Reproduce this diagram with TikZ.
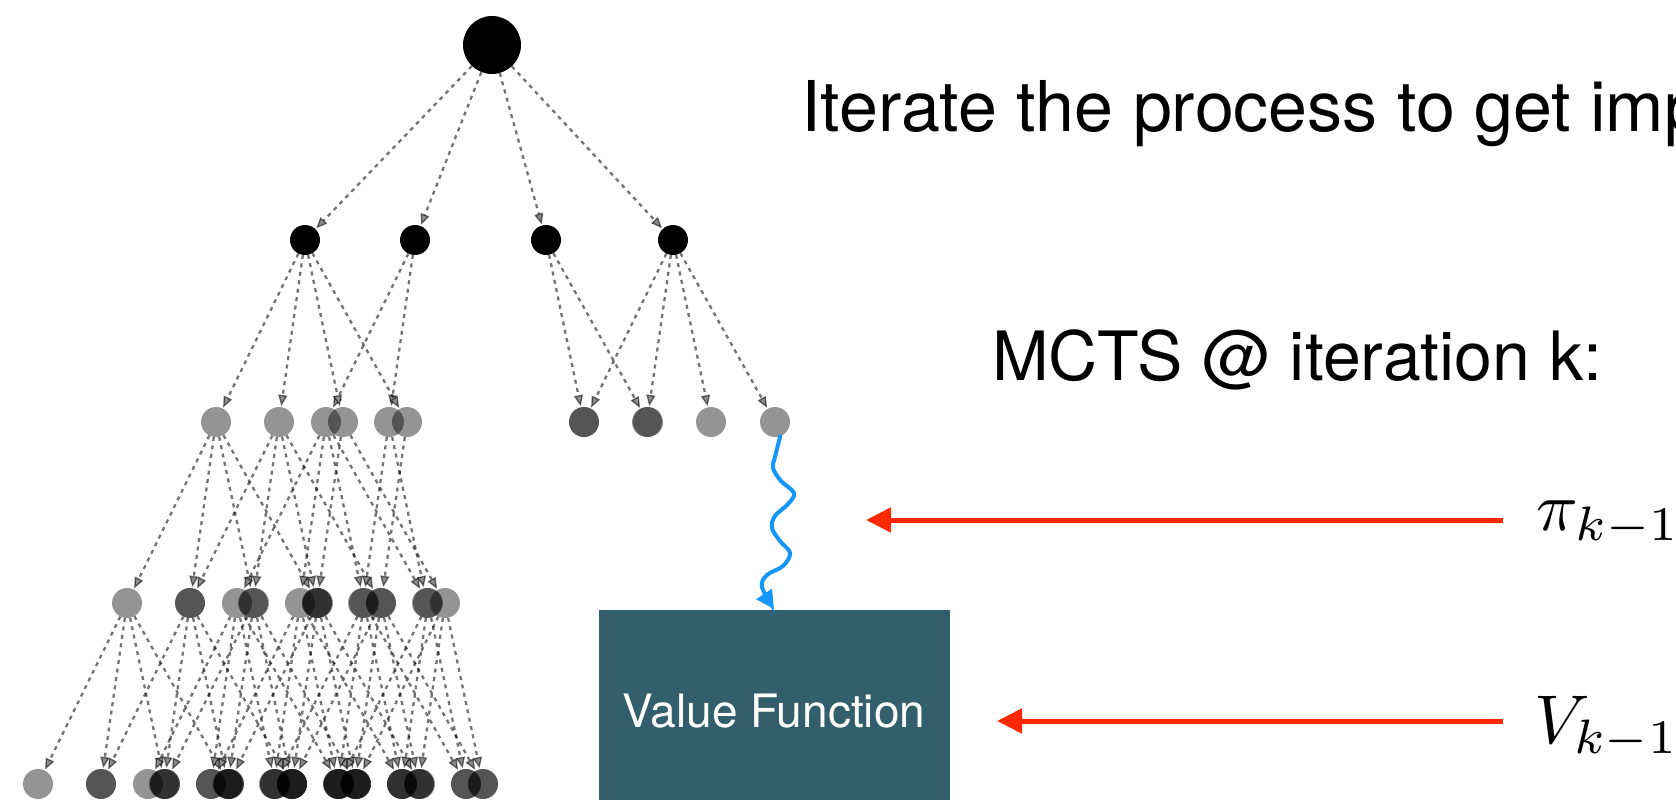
\documentclass[tikz,border=0pt]{standalone}
\usepackage{fontspec}
\setmainfont{TeX Gyre Heros}
\usetikzlibrary{arrows.meta,calc}
\definecolor{vfbox}{RGB}{51,94,107}
\definecolor{arrred}{RGB}{255,40,0}
\definecolor{waveblue}{RGB}{20,150,250}
\begin{document}
\begin{tikzpicture}[x=1pt,y=-1pt,
  edge/.style={draw=black, draw opacity=0.55, line width=2.3pt, dash pattern=on 4pt off 4.5pt,
    -{Triangle[length=11pt, width=9pt, line width=1.3pt, fill=black!45]}, shorten >=1pt},
  solidnode/.style={circle, fill=black, inner sep=0pt, minimum size=30pt},
  gnode/.style={circle, fill=black, fill opacity=0.42, inner sep=0pt, minimum size=30pt},
  bigtext/.style={inner sep=0pt, anchor=base west, font=\fontsize{68}{80}\selectfont},
  redarrow/.style={draw=arrred, line width=5pt, -{Triangle[length=25pt, width=24pt]}},
  wavearrow/.style={draw=waveblue, line width=4pt, line cap=round, -{Triangle[length=18pt, width=18pt]}}
]
\path[use as bounding box] (0,0) rectangle (1676,800);
\fill[white] (0,0) rectangle (1676,800);
\clip (0,0) rectangle (1676,800);

% root and level 1
\node[solidnode, minimum size=58pt] (root) at (492,45) {};
\foreach \n/\x in {a1/305, a2/415, a3/546, a4/673} {
  \node[solidnode] (\n) at (\x,240) {};
  \draw[edge] (root) -- (\n);
}

% level 2
\foreach \n/\p/\o in {b1/a1/-89, b2/a1/-26, b3/a2/-89, b4/a1/38, b5/a2/-26, b6/a1/102,
                      b7/a3/38, b8/a4/-89, b9/a3/102, b10/a4/-26, b11/a4/38, b12/a4/102} {
  \node[gnode] (\n) at ($(\p)+(\o,182)$) {};
  \draw[edge] (\p) -- (\n);
}

% level 3
\foreach \n/\p/\o in {c1/b1/-89, c2/b1/-26, c3/b1/38, c4/b1/102,
                      c5/b2/-89, c6/b2/-26, c7/b2/38, c8/b2/102,
                      c9/b3/-89, c10/b3/-26, c11/b3/38, c12/b3/102,
                      c13/b4/-26, c14/b4/102, c15/b5/38, c16/b5/-26, c17/b6/-26} {
  \node[gnode] (\n) at ($(\p)+(\o,181)$) {};
  \draw[edge] (\p) -- (\n);
}

% level 4
\foreach \p in {c1,c2,c9,c3,c10,c4,c11,c8} {
  \foreach \o [count=\k] in {-89,-26,38,102} {
    \node[gnode] (d-\p-\k) at ($(\p)+(\o,181)$) {};
    \draw[edge] (\p) -- (d-\p-\k);
  }
}
\foreach \p in {c12,c14} {
  \foreach \o [count=\k] in {-89,-26,38} {
    \node[gnode] (d-\p-\k) at ($(\p)+(\o,181)$) {};
    \draw[edge] (\p) -- (d-\p-\k);
  }
}

% value function box
\node[fill=vfbox, inner sep=0pt, minimum width=351pt, minimum height=240pt, anchor=north west] (vf) at (599,610) {};
\node[inner sep=0pt, anchor=base, text=white, font=\fontsize{46}{55}\selectfont] (vft) at (774,727) {Value Function};

% blue wavy rollout
\coordinate (vfin) at (774,609);
\draw[wavearrow] plot[smooth, tension=0.6] coordinates {(b12.-70) (775,457) (773,468) (781,481) (794,493) (788,504) (775,516) (772,528) (780,541) (790,553) (783,566) (767,575) (762,587) (vfin)};

% texts
\node[bigtext, font=\fontsize{70}{80}\selectfont] (iter) at (801,131) {Iterate the process to get imp};
\node[bigtext] (mcts) at (992,380) {MCTS @ iteration k:};
\node[inner sep=0pt, anchor=base west] (pi) at (1536,530) {\scalebox{6.9}{$\pi_{k-1}$}};
\node[inner sep=0pt, anchor=base west] (vk) at (1534,743) {\scalebox{6.9}{$V_{k-1}$}};

% red arrows
\coordinate (pifrom) at (1503,520);
\coordinate (pito) at (866,520);
\coordinate (vfrom) at (1503,721);
\coordinate (vto) at (997,721);
\draw[redarrow] (pifrom) -- (pito);
\draw[redarrow] (vfrom) -- (vto);
\end{tikzpicture}
\end{document}
